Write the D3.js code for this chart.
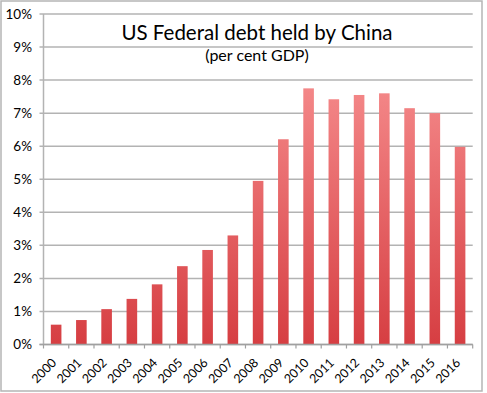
<html>
<head>
<meta charset="utf-8">
<script src="https://d3js.org/d3.v7.min.js"></script>
<style>
  body { margin: 0; background: #fff; }
  text { font-family: "Lato", "DejaVu Sans", sans-serif; fill: #000; }
</style>
</head>
<body>
<svg id="chart" width="487" height="393"></svg>
<script>

// Chart data: year categories and debt held by China (% of GDP)
var years = ["2000", "2001", "2002", "2003", "2004", "2005", "2006", "2007", "2008",
             "2009", "2010", "2011", "2012", "2013", "2014", "2015", "2016"];
var debtShare = [0.6, 0.74, 1.07, 1.38, 1.82, 2.37, 2.86, 3.3, 4.95,
                 6.21, 7.75, 7.42, 7.55, 7.6, 7.15, 7.0, 5.98];
var yTicks = [0, 1, 2, 3, 4, 5, 6, 7, 8, 9, 10];
var titleText = "US Federal debt held by China";
var subtitleText = "(per cent GDP)";

var svg = d3.select("#chart");

// outer frame of the picture
svg.append("rect")
  .attr("x", 1).attr("y", 1)
  .attr("width", 481).attr("height", 390)
  .attr("fill", "#fff")
  .attr("stroke", "#b5b5b5")
  .attr("stroke-width", 1.5);

// plot area edges (named so they don't clash with window.top)
var plotLeft = 43.5, plotRight = 472.7, plotTop = 14, plotBottom = 344.5;

var x = d3.scaleBand()
  .domain(years)
  .range([plotLeft, plotRight])
  .paddingInner(0.58)
  .paddingOuter(0.29);

var y = d3.scaleLinear()
  .domain([0, 10])
  .range([plotBottom, plotTop]);

// gradient for bars, light pink at top, deeper red at bottom
var grad = svg.append("defs").append("linearGradient")
  .attr("id", "barGrad")
  .attr("gradientUnits", "userSpaceOnUse")
  .attr("x1", 0).attr("y1", plotTop).attr("x2", 0).attr("y2", plotBottom);
grad.append("stop").attr("offset", "0%").attr("stop-color", "#fc9c9c");
grad.append("stop").attr("offset", "100%").attr("stop-color", "#d63e42");

// horizontal gridlines
svg.append("g")
  .selectAll("line")
  .data(yTicks)
  .enter().append("line")
  .attr("x1", plotLeft - 4)
  .attr("x2", plotRight)
  .attr("y1", function(d) { return y(d); })
  .attr("y2", function(d) { return y(d); })
  .attr("stroke", "#b3b3b3")
  .attr("stroke-width", 1.5);

// y tick labels
svg.append("g")
  .selectAll("text")
  .data(yTicks)
  .enter().append("text")
  .attr("x", 32)
  .attr("y", function(d) { return y(d); })
  .attr("dy", "0.35em")
  .attr("text-anchor", "end")
  .style("font-size", "13.5px")
  .text(function(d) { return d + "%"; });

// bars
svg.append("g")
  .selectAll("rect")
  .data(debtShare)
  .enter().append("rect")
  .attr("x", function(d, i) { return x(years[i]); })
  .attr("y", function(d) { return y(d); })
  .attr("width", x.bandwidth())
  .attr("height", function(d) { return plotBottom - y(d); })
  .attr("fill", "url(#barGrad)");

// axis lines
svg.append("line")
  .attr("x1", plotLeft).attr("x2", plotLeft)
  .attr("y1", plotTop).attr("y2", plotBottom)
  .attr("stroke", "#b3b3b3").attr("stroke-width", 1.5);
svg.append("line")
  .attr("x1", plotLeft - 4).attr("x2", plotRight)
  .attr("y1", plotBottom).attr("y2", plotBottom)
  .attr("stroke", "#a0a0a0").attr("stroke-width", 1.5);

// x tick marks at band boundaries
var bandEdge = function(i) { return plotLeft + i * (plotRight - plotLeft) / years.length; };
svg.append("g")
  .selectAll("line")
  .data(d3.range(years.length + 1))
  .enter().append("line")
  .attr("x1", bandEdge)
  .attr("x2", bandEdge)
  .attr("y1", plotBottom)
  .attr("y2", plotBottom + 4)
  .attr("stroke", "#a0a0a0")
  .attr("stroke-width", 1.2);

// rotated year labels
svg.append("g")
  .selectAll("text")
  .data(years)
  .enter().append("text")
  .attr("transform", function(d) {
    return "translate(" + (x(d) + x.bandwidth() / 2 - 2) + "," + (plotBottom + 16) + ") rotate(-45)";
  })
  .attr("text-anchor", "end")
  .attr("dy", "0.35em")
  .style("font-size", "12.5px")
  .text(function(d) { return d; });

// title
svg.append("text")
  .attr("x", 257).attr("y", 40)
  .attr("text-anchor", "middle")
  .style("font-size", "20.5px")
  .text(titleText);
svg.append("text")
  .attr("x", 257).attr("y", 61)
  .attr("text-anchor", "middle")
  .style("font-size", "16px")
  .text(subtitleText);

</script>
</body>
</html>
